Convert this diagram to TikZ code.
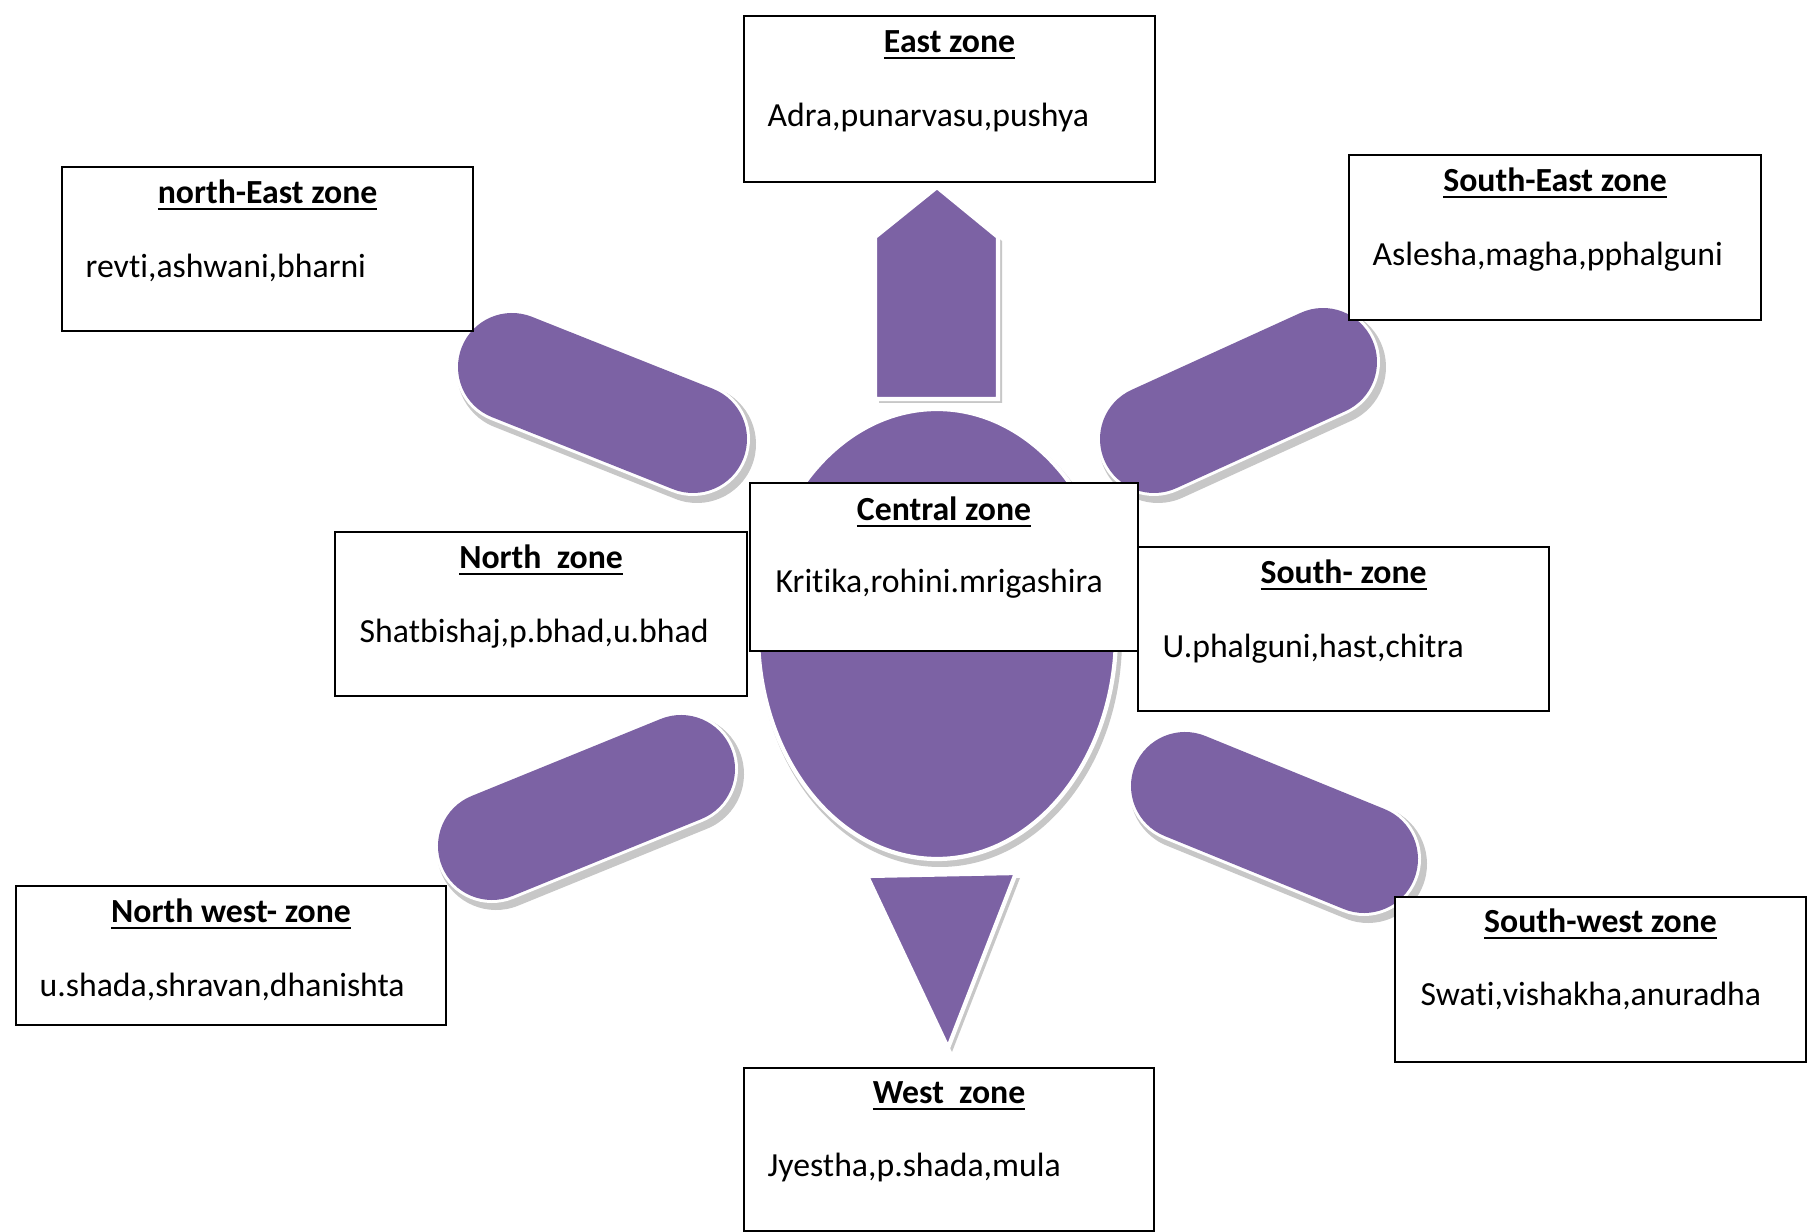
\documentclass[tikz,border=0pt]{standalone}
\usepackage{fontspec}
\setmainfont{Carlito}[Ligatures=NoCommon]
\usepackage{xcolor}
\usepackage{tikz}

\definecolor{petalpurple}{RGB}{124,98,164}

\begin{document}
\begin{tikzpicture}[x=0.1mm,y=-0.1mm,
    zone box/.style={draw,line width=0.6pt,fill=white,anchor=north west,inner sep=0pt},
    zone title/.style={font=\fontsize{9.6}{11.5}\selectfont\bfseries,anchor=base,inner sep=0pt},
    zone text/.style={font=\fontsize{9.6}{11.5}\selectfont,anchor=base west,inner sep=0pt},
    petal shadow/.style={draw=black!22,line cap=round,line width=11.8mm},
    petal rim/.style={draw=white,line cap=round,line width=11.4mm},
    petal/.style={draw=petalpurple,line cap=round,line width=10.8mm},
    body shadow/.style={fill=black!22},
    body/.style={fill=petalpurple,draw=white,line width=1.2pt}]

  \useasboundingbox[fill=white] (0,0) rectangle (1807,1232);

  % shadows of the sun
  \draw[petal shadow] (516,372) -- (697,444);
  \draw[petal shadow] (1158,444) -- (1327,367);
  \draw[petal shadow] (496,851) -- (685,774);
  \draw[petal shadow] (1189,791) -- (1368,864);
  \fill[body shadow] (940,639) ellipse [x radius=18.2mm, y radius=22.8mm];
  \fill[body shadow] (879,403) -- (879,241) -- (941,192) -- (1002,241) -- (1002,403) -- cycle;
  \fill[body shadow] (872,880) -- (1020,878) -- (952,1052) -- cycle;

  % rays
  \draw[petal rim] (512,367) -- (693,439);
  \draw[petal] (512,367) -- (693,439);
  \draw[petal rim] (1154,439) -- (1323,362);
  \draw[petal] (1154,439) -- (1323,362);
  \draw[petal rim] (492,846) -- (681,769);
  \draw[petal] (492,846) -- (681,769);
  \draw[petal rim] (1185,786) -- (1364,859);
  \draw[petal] (1185,786) -- (1364,859);

  % sun body, east arrow, west point
  \filldraw[body] (937,634) ellipse [x radius=17.9mm, y radius=22.5mm];
  \filldraw[body] (875,399) -- (875,237) -- (937,187) -- (998,237) -- (998,399) -- cycle;
  \filldraw[body] (867,876) -- (1016,873) -- (948,1048) -- cycle;

  % zone boxes
  \node[zone box,minimum width=41.1mm,minimum height=16.6mm] (east) at (743,15) {};
  \node[zone box,minimum width=41.1mm,minimum height=16.4mm] (neast) at (61,166) {};
  \node[zone box,minimum width=41.2mm,minimum height=16.5mm] (seast) at (1348,154) {};
  \node[zone box,minimum width=41.2mm,minimum height=16.4mm] (north) at (334,531) {};
  \node[zone box,minimum width=41.1mm,minimum height=16.4mm] (south) at (1137,546) {};
  \node[zone box,minimum width=38.8mm,minimum height=16.8mm] (central) at (749,482) {};
  \node[zone box,minimum width=43.0mm,minimum height=13.9mm] (nwest) at (15,885) {};
  \node[zone box,minimum width=41.1mm,minimum height=16.5mm] (swest) at (1394,896) {};
  \node[zone box,minimum width=41.0mm,minimum height=16.3mm] (west) at (743,1067) {};

  % titles
  \node[zone title] (east title) at ([yshift=-3.8mm]east.north) {\underline{East zone}};
  \node[zone title] (neast title) at ([yshift=-3.8mm]neast.north) {\underline{north-East zone}};
  \node[zone title] (seast title) at ([yshift=-3.8mm]seast.north) {\underline{South-East zone}};
  \node[zone title] (north title) at ([yshift=-3.8mm]north.north) {\underline{North~~zone}};
  \node[zone title] (south title) at ([yshift=-3.8mm]south.north) {\underline{South-~zone}};
  \node[zone title] (central title) at ([yshift=-3.9mm]central.north) {\underline{Central zone}};
  \node[zone title] (nwest title) at ([yshift=-3.8mm]nwest.north) {\underline{North west-~zone}};
  \node[zone title] (swest title) at ([yshift=-3.7mm]swest.north) {\underline{South-west zone}};
  \node[zone title] (west title) at ([yshift=-3.7mm]west.north) {\underline{West~~zone}};

  % nakshatras
  \node[zone text] (east text) at ([xshift=2.4mm,yshift=-11.2mm]east.north west) {Adra,punarvasu,pushya};
  \node[zone text] (neast text) at ([xshift=2.4mm,yshift=-11.2mm]neast.north west) {revti,ashwani,bharni};
  \node[zone text] (seast text) at ([xshift=2.4mm,yshift=-11.2mm]seast.north west) {Aslesha,magha,pphalguni};
  \node[zone text] (north text) at ([xshift=2.5mm,yshift=-11.2mm]north.north west) {Shatbishaj,p.bhad,u.bhad};
  \node[zone text] (south text) at ([xshift=2.5mm,yshift=-11.2mm]south.north west) {U.phalguni,hast,chitra};
  \node[zone text] (central text) at ([xshift=2.6mm,yshift=-11.1mm]central.north west) {Kritika,rohini.mrigashira};
  \node[zone text] (nwest text) at ([xshift=2.4mm,yshift=-11.2mm]nwest.north west) {u.shada,shravan,dhanishta};
  \node[zone text] (swest text) at ([xshift=2.6mm,yshift=-11.0mm]swest.north west) {Swati,vishakha,anuradha};
  \node[zone text] (west text) at ([xshift=2.4mm,yshift=-11.0mm]west.north west) {Jyestha,p.shada,mula};
\end{tikzpicture}
\end{document}
